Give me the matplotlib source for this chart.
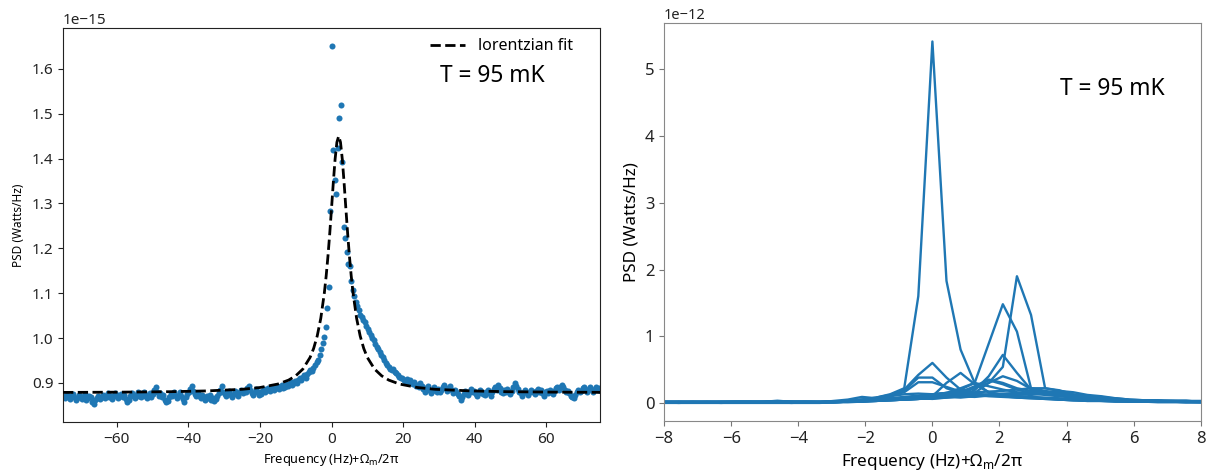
import numpy as np
import matplotlib
matplotlib.use("Agg")
import matplotlib.pyplot as plt

plt.rcParams['font.family'] = ['Noto Sans', 'DejaVu Sans']
plt.rcParams['mathtext.fontset'] = 'custom'
plt.rcParams['mathtext.rm'] = 'Noto Sans'

# ---------------- left panel: measured PSD + lorentzian fit (units 1e-15) ----
bin_step = 0.42
left_bins = np.arange(-179, 180)
psd_meas = [
    0.868, 0.872, 0.866, 0.874, 0.870, 0.865, 0.871, 0.876, 0.869, 0.863,
    0.867, 0.873, 0.870, 0.864, 0.869, 0.875, 0.862, 0.866, 0.871, 0.868,
    0.858, 0.853, 0.861, 0.867, 0.872, 0.865, 0.869, 0.874, 0.866, 0.871,
    0.877, 0.868, 0.872, 0.864, 0.870, 0.878, 0.873, 0.867, 0.871, 0.876,
    0.869, 0.874, 0.865, 0.857, 0.862, 0.871, 0.877, 0.870, 0.866, 0.873,
    0.879, 0.872, 0.868, 0.875, 0.880, 0.871, 0.866, 0.874, 0.878, 0.869,
    0.876, 0.884, 0.892, 0.879, 0.871, 0.877, 0.868, 0.873, 0.863, 0.857,
    0.860, 0.869, 0.875, 0.871, 0.880, 0.874, 0.866, 0.872, 0.879, 0.870,
    0.865, 0.858, 0.868, 0.875, 0.881, 0.887, 0.894, 0.883, 0.876, 0.870,
    0.878, 0.872, 0.866, 0.874, 0.869, 0.863, 0.871, 0.867, 0.873, 0.862,
    0.866, 0.859, 0.864, 0.870, 0.877, 0.884, 0.893, 0.881, 0.875, 0.871,
    0.878, 0.883, 0.874, 0.869, 0.876, 0.882, 0.878, 0.872, 0.880, 0.885,
    0.877, 0.883, 0.879, 0.888, 0.894, 0.884, 0.878, 0.874, 0.881, 0.886,
    0.879, 0.873, 0.876, 0.882, 0.887, 0.880, 0.885, 0.889, 0.883, 0.886,
    0.891, 0.884, 0.888, 0.893, 0.887, 0.890, 0.895, 0.889, 0.892, 0.897,
    0.893, 0.898, 0.902, 0.896, 0.900, 0.905, 0.899, 0.907, 0.911, 0.906,
    0.913, 0.917, 0.912, 0.920, 0.924, 0.929, 0.926, 0.933, 0.940, 0.947,
    0.952, 0.963, 0.975, 0.990, 1.003, 1.025, 1.066, 1.114, 1.284, 1.651,
    1.420, 1.353, 1.322, 1.424, 1.490, 1.520, 1.393, 1.248, 1.224, 1.192,
    1.166, 1.160, 1.128, 1.107, 1.094, 1.081, 1.072, 1.063, 1.051, 1.047,
    1.040, 1.036, 1.028, 1.021, 1.014, 1.006, 1.001, 0.996, 0.986, 0.981,
    0.976, 0.969, 0.962, 0.958, 0.951, 0.944, 0.941, 0.935, 0.932, 0.929,
    0.931, 0.925, 0.922, 0.918, 0.914, 0.910, 0.912, 0.907, 0.905, 0.909,
    0.903, 0.906, 0.900, 0.897, 0.902, 0.894, 0.896, 0.890, 0.899, 0.893,
    0.887, 0.881, 0.889, 0.893, 0.885, 0.877, 0.883, 0.890, 0.884, 0.880,
    0.886, 0.879, 0.884, 0.891, 0.896, 0.888, 0.882, 0.887, 0.893, 0.884,
    0.878, 0.885, 0.880, 0.875, 0.871, 0.862, 0.868, 0.876, 0.882, 0.878,
    0.873, 0.881, 0.886, 0.879, 0.883, 0.876, 0.870, 0.878, 0.884, 0.880,
    0.875, 0.873, 0.879, 0.884, 0.877, 0.871, 0.880, 0.886, 0.891, 0.884,
    0.896, 0.889, 0.881, 0.877, 0.884, 0.879, 0.887, 0.883, 0.876, 0.882,
    0.890, 0.899, 0.893, 0.886, 0.881, 0.877, 0.872, 0.879, 0.884, 0.878,
    0.873, 0.880, 0.885, 0.879, 0.876, 0.882, 0.887, 0.881, 0.884, 0.877,
    0.872, 0.879, 0.883, 0.878, 0.885, 0.880, 0.876, 0.882, 0.888, 0.892,
    0.885, 0.890, 0.896, 0.891, 0.884, 0.879, 0.883, 0.877, 0.872, 0.868,
    0.866, 0.874, 0.880, 0.885, 0.879, 0.883, 0.888, 0.892, 0.884, 0.880,
    0.886, 0.890, 0.884, 0.879, 0.887, 0.892, 0.885, 0.889, 0.883,
]

fit_freq = [-75, -60, -45, -35, -25, -20, -15, -12, -10, -8, -6, -5, -4, -3,
            -2, -1.5, -1, -0.5, 0, 0.5, 1, 1.5, 2, 2.5, 3, 3.5, 4, 4.5, 5,
            5.5, 6, 7, 8, 9, 10, 12, 14, 16, 19, 24, 29, 39, 49, 64, 79]
fit_psd = [0.8790, 0.8795, 0.8806, 0.8823, 0.8859, 0.8899, 0.8976, 0.9064,
           0.9160, 0.9311, 0.9569, 0.9769, 1.0047, 1.0442, 1.1012, 1.1384,
           1.1824, 1.2332, 1.2892, 1.3470, 1.3991, 1.4364, 1.4500, 1.4364,
           1.3991, 1.3470, 1.2892, 1.2332, 1.1824, 1.1384, 1.1012, 1.0442,
           1.0047, 0.9769, 0.9569, 0.9311, 0.9160, 0.9064, 0.8976, 0.8899,
           0.8859, 0.8823, 0.8806, 0.8795, 0.8790]

# ---------------- right panel: individual spectra (units 1e-12) -------------
right_bins = np.arange(-20, 21)
spectra = [
    [0.01, 0.01, 0.01, 0.01, 0.01, 0.01, 0.01, 0.01, 0.01, 0.02, 0.01, 0.01, 0.01,
     0.02, 0.03, 0.05, 0.08, 0.13, 0.22, 1.60, 5.42, 1.83, 0.80, 0.30, 0.16, 0.12,
     0.10, 0.08, 0.07, 0.05, 0.04, 0.03, 0.03, 0.02, 0.02, 0.02, 0.02, 0.02, 0.02,
     0.02, 0.02],
    [0.01, 0.01, 0.01, 0.01, 0.01, 0.01, 0.01, 0.01, 0.01, 0.01, 0.01, 0.01, 0.01,
     0.01, 0.02, 0.02, 0.04, 0.06, 0.08, 0.10, 0.12, 0.15, 0.22, 0.30, 0.89, 1.48,
     1.07, 0.22, 0.18, 0.14, 0.10, 0.08, 0.06, 0.04, 0.03, 0.03, 0.03, 0.02, 0.02,
     0.02, 0.02],
    [0.02, 0.02, 0.01, 0.02, 0.02, 0.01, 0.02, 0.02, 0.01, 0.02, 0.02, 0.02, 0.01,
     0.02, 0.03, 0.03, 0.05, 0.07, 0.09, 0.11, 0.13, 0.15, 0.18, 0.22, 0.30, 0.54,
     1.90, 1.32, 0.22, 0.19, 0.13, 0.10, 0.08, 0.06, 0.04, 0.04, 0.03, 0.03, 0.03,
     0.02, 0.02],
    [0.00, 0.01, 0.00, 0.01, 0.01, 0.00, 0.01, 0.01, 0.01, 0.01, 0.00, 0.01, 0.01,
     0.02, 0.03, 0.05, 0.08, 0.12, 0.20, 0.42, 0.60, 0.38, 0.20, 0.14, 0.12, 0.10,
     0.08, 0.07, 0.06, 0.05, 0.04, 0.03, 0.03, 0.02, 0.02, 0.02, 0.01, 0.01, 0.01,
     0.01, 0.01],
    [0.01, 0.01, 0.01, 0.01, 0.01, 0.01, 0.01, 0.01, 0.01, 0.01, 0.01, 0.01, 0.01,
     0.02, 0.03, 0.04, 0.06, 0.10, 0.18, 0.38, 0.38, 0.22, 0.15, 0.12, 0.10, 0.09,
     0.08, 0.07, 0.06, 0.05, 0.04, 0.04, 0.03, 0.03, 0.02, 0.02, 0.02, 0.02, 0.01,
     0.01, 0.01],
    [0.02, 0.01, 0.02, 0.02, 0.01, 0.02, 0.02, 0.02, 0.02, 0.03, 0.02, 0.02, 0.02,
     0.02, 0.03, 0.05, 0.07, 0.11, 0.16, 0.31, 0.31, 0.24, 0.17, 0.13, 0.11, 0.10,
     0.09, 0.08, 0.07, 0.06, 0.05, 0.04, 0.04, 0.03, 0.03, 0.03, 0.02, 0.02, 0.02,
     0.02, 0.02],
    [0.01, 0.01, 0.01, 0.01, 0.01, 0.01, 0.01, 0.01, 0.01, 0.01, 0.01, 0.01, 0.01,
     0.01, 0.02, 0.02, 0.03, 0.04, 0.05, 0.06, 0.10, 0.30, 0.45, 0.28, 0.16, 0.12,
     0.10, 0.09, 0.08, 0.07, 0.06, 0.05, 0.04, 0.03, 0.03, 0.02, 0.02, 0.02, 0.02,
     0.01, 0.01],
    [0.01, 0.01, 0.01, 0.01, 0.01, 0.01, 0.01, 0.01, 0.01, 0.01, 0.01, 0.01, 0.01,
     0.01, 0.01, 0.02, 0.03, 0.04, 0.05, 0.06, 0.07, 0.08, 0.10, 0.19, 0.40, 0.72,
     0.45, 0.20, 0.16, 0.13, 0.10, 0.08, 0.06, 0.05, 0.04, 0.03, 0.03, 0.02, 0.02,
     0.02, 0.02],
    [0.02, 0.02, 0.02, 0.01, 0.02, 0.02, 0.02, 0.02, 0.02, 0.02, 0.01, 0.02, 0.02,
     0.02, 0.02, 0.03, 0.04, 0.05, 0.06, 0.08, 0.09, 0.10, 0.12, 0.15, 0.30, 0.40,
     0.33, 0.21, 0.17, 0.14, 0.11, 0.09, 0.07, 0.05, 0.04, 0.04, 0.03, 0.03, 0.03,
     0.02, 0.02],
    [0.01, 0.01, 0.01, 0.01, 0.01, 0.01, 0.01, 0.01, 0.01, 0.01, 0.01, 0.01, 0.01,
     0.02, 0.03, 0.04, 0.05, 0.06, 0.08, 0.09, 0.11, 0.13, 0.16, 0.25, 0.35, 0.30,
     0.22, 0.18, 0.15, 0.12, 0.10, 0.08, 0.06, 0.05, 0.04, 0.03, 0.03, 0.02, 0.02,
     0.02, 0.02],
    [0.01, 0.01, 0.01, 0.01, 0.01, 0.01, 0.01, 0.01, 0.01, 0.01, 0.01, 0.01, 0.01,
     0.01, 0.02, 0.03, 0.04, 0.05, 0.06, 0.08, 0.10, 0.14, 0.20, 0.30, 0.25, 0.20,
     0.16, 0.14, 0.12, 0.10, 0.08, 0.07, 0.05, 0.04, 0.03, 0.03, 0.02, 0.02, 0.02,
     0.02, 0.01],
    [0.01, 0.01, 0.01, 0.01, 0.01, 0.01, 0.01, 0.01, 0.02, 0.03, 0.02, 0.01, 0.01,
     0.03, 0.05, 0.09, 0.07, 0.10, 0.13, 0.14, 0.13, 0.15, 0.14, 0.16, 0.17, 0.18,
     0.20, 0.22, 0.22, 0.18, 0.12, 0.10, 0.09, 0.06, 0.04, 0.04, 0.03, 0.03, 0.03,
     0.03, 0.03],
    [0.01, 0.01, 0.01, 0.01, 0.01, 0.01, 0.01, 0.01, 0.01, 0.01, 0.01, 0.01, 0.01,
     0.02, 0.03, 0.04, 0.05, 0.06, 0.07, 0.08, 0.09, 0.10, 0.11, 0.12, 0.13, 0.14,
     0.15, 0.16, 0.17, 0.15, 0.12, 0.10, 0.08, 0.07, 0.05, 0.04, 0.03, 0.03, 0.02,
     0.02, 0.02],
    [0.00, 0.00, 0.00, 0.00, 0.00, 0.00, 0.00, 0.00, 0.00, 0.00, 0.00, 0.00, 0.00,
     0.01, 0.02, 0.03, 0.04, 0.05, 0.05, 0.06, 0.07, 0.09, 0.08, 0.10, 0.12, 0.11,
     0.13, 0.12, 0.14, 0.13, 0.11, 0.09, 0.07, 0.05, 0.04, 0.03, 0.02, 0.02, 0.01,
     0.01, 0.01],
    [0.02, 0.02, 0.02, 0.02, 0.02, 0.02, 0.02, 0.02, 0.02, 0.02, 0.02, 0.02, 0.02,
     0.02, 0.02, 0.03, 0.03, 0.04, 0.05, 0.07, 0.06, 0.08, 0.10, 0.09, 0.11, 0.13,
     0.12, 0.14, 0.16, 0.18, 0.16, 0.12, 0.10, 0.07, 0.05, 0.04, 0.04, 0.03, 0.03,
     0.02, 0.02],
    [0.01, 0.01, 0.01, 0.01, 0.01, 0.01, 0.01, 0.01, 0.01, 0.01, 0.01, 0.01, 0.01,
     0.01, 0.02, 0.02, 0.03, 0.04, 0.05, 0.06, 0.08, 0.10, 0.14, 0.22, 0.34, 0.28,
     0.20, 0.15, 0.13, 0.11, 0.09, 0.07, 0.06, 0.04, 0.03, 0.03, 0.02, 0.02, 0.02,
     0.02, 0.02],
]

blue = '#1f77b4'

fig = plt.figure(figsize=(12.08, 4.75), dpi=100)

# left panel
ax1 = fig.add_axes([0.0522, 0.1116, 0.4445, 0.8295])
ax1.scatter(left_bins * bin_step, np.array(psd_meas) * 1e-15, s=19,
            color=blue, linewidths=0, zorder=2)
ax1.plot(fit_freq, np.array(fit_psd) * 1e-15, 'k--', lw=2.0,
         label='lorentzian fit', zorder=3)
ax1.set_xlim(-75, 75)
ax1.set_xlabel('Frequency (Hz)+Ω$_\\mathregular{m}$/2π', fontsize=9.2)
ax1.set_ylabel('PSD (Watts/Hz)', fontsize=8.5, labelpad=5)
ax1.tick_params(labelsize=11, colors='#222222')
ax1.yaxis.get_offset_text().set_fontsize(11)
for sp in ax1.spines.values():
    sp.set_color('#222222')
ax1.legend(loc='upper right', bbox_to_anchor=(0.962, 0.99), borderaxespad=0,
           frameon=False, fontsize=11.5, handlelength=2.2)
ax1.text(0.702, 0.878, 'T = 95 mK', transform=ax1.transAxes,
         fontsize=16.4, va='center', ha='left')

# right panel
ax2 = fig.add_axes([0.5497, 0.1137, 0.4443, 0.8370])
for sp_vals in spectra:
    ax2.plot(right_bins * bin_step, np.array(sp_vals) * 1e-12, color=blue,
             lw=1.7)
ax2.set_xlim(-8, 8)
ax2.set_xlabel('Frequency (Hz)+Ω$_\\mathregular{m}$/2π', fontsize=12.3)
ax2.set_ylabel('PSD (Watts/Hz)', fontsize=12.3)
ax2.tick_params(labelsize=12, colors='#222222')
ax2.tick_params(color='#777777')
ax2.yaxis.get_offset_text().set_fontsize(10.5)
for sp in ax2.spines.values():
    sp.set_color('#888888')
ax2.text(0.738, 0.836, 'T = 95 mK', transform=ax2.transAxes,
         fontsize=16.4, va='center', ha='left')

fig.savefig('out.png', dpi=100)
